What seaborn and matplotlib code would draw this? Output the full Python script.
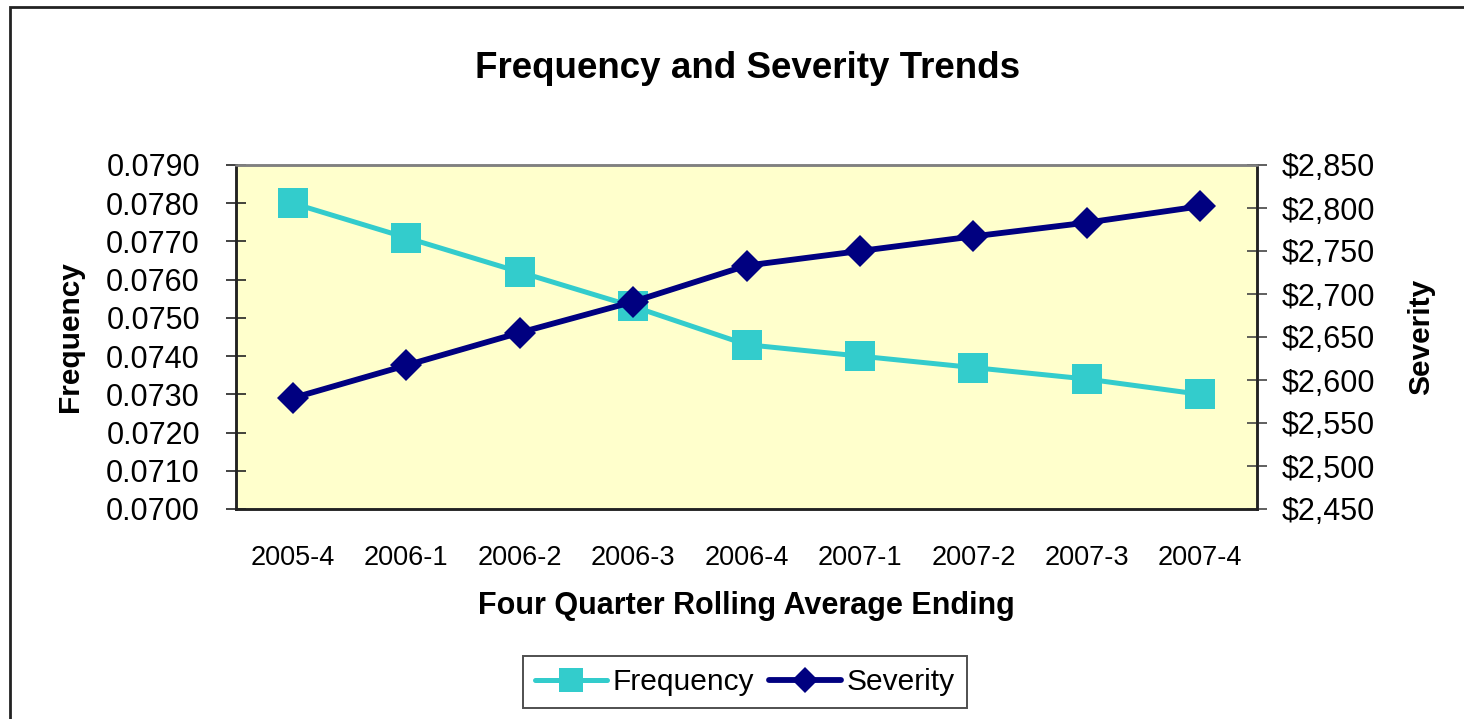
import matplotlib
matplotlib.use("Agg")
import matplotlib.pyplot as plt
import matplotlib.ticker as mticker
from matplotlib.patches import Rectangle
from matplotlib.lines import Line2D
import numpy as np
import pandas as pd
import seaborn as sns

# Four-quarter rolling averages
quarters = ["2005-4", "2006-1", "2006-2", "2006-3", "2006-4",
            "2007-1", "2007-2", "2007-3", "2007-4"]
frequency = [0.0780, 0.0771, 0.0762, 0.0753, 0.0743,
             0.0740, 0.0737, 0.0734, 0.0730]
severity = [2579, 2617, 2655, 2691, 2733, 2750, 2767, 2783, 2802]

freq_ticks = [0.0700, 0.0710, 0.0720, 0.0730, 0.0740,
              0.0750, 0.0760, 0.0770, 0.0780, 0.0790]
sev_ticks = [2450, 2500, 2550, 2600, 2650, 2700, 2750, 2800, 2850]

FREQ_COLOR = "#33CCCC"
SEV_COLOR = "#000080"

sns.set_theme(style="white")
plt.rcParams["font.family"] = ["Liberation Sans", "DejaVu Sans"]
plt.rcParams["text.color"] = "black"
plt.rcParams["axes.labelcolor"] = "black"
plt.rcParams["xtick.color"] = "black"
plt.rcParams["ytick.color"] = "black"

df = pd.DataFrame({"pos": np.arange(len(quarters)),
                   "quarter": quarters,
                   "Frequency": frequency,
                   "Severity": severity})

fig = plt.figure(figsize=(14.64, 7.19), dpi=100)
ax = fig.add_axes([236 / 1464, 1 - 509 / 719, 1021 / 1464, 344 / 719])
ax.set_facecolor("#FFFFCC")

# outer chart border
fig.add_artist(Rectangle((10 / 1464, -0.05), 1.2, 1 - 7 / 719 + 0.05,
                         transform=fig.transFigure, fill=False,
                         edgecolor="#222222", linewidth=2.0))

sns.lineplot(data=df, x="pos", y="Frequency", ax=ax, color=FREQ_COLOR,
             linewidth=3.6, marker="s", markersize=21.5,
             markeredgewidth=0, markerfacecolor=FREQ_COLOR, legend=False)

ax2 = ax.twinx()
sns.lineplot(data=df, x="pos", y="Severity", ax=ax2, color=SEV_COLOR,
             linewidth=4.2, marker="D", markersize=16,
             markeredgewidth=0, markerfacecolor=SEV_COLOR, legend=False)

ax.set_xlim(-0.5, len(quarters) - 0.5)
ax.set_ylim(freq_ticks[0], freq_ticks[-1])
ax2.set_ylim(sev_ticks[0], sev_ticks[-1])

ax.set_yticks(freq_ticks)
ax.yaxis.set_major_formatter(mticker.FormatStrFormatter("%.4f"))
ax2.set_yticks(sev_ticks)
ax2.yaxis.set_major_formatter(mticker.FuncFormatter(lambda v, p: f"${v:,.0f}"))

ax.set_xticks(np.arange(len(quarters)))
ax.set_xticklabels(quarters)
ax.set_xticks(np.arange(-0.5, len(quarters), 1.0), minor=True)
ax.tick_params(axis="x", which="major", length=0, pad=26, labelsize=19.5,
               labelcolor="black")
ax.tick_params(axis="x", which="minor", length=14, width=1.2,
               direction="inout", color="#222222")
ax.tick_params(axis="y", which="major", length=14, width=1.2,
               direction="inout", pad=19, labelsize=22, color="#222222",
               labelcolor="black", left=True)
ax2.tick_params(axis="y", which="major", length=14, width=1.2,
                direction="inout", pad=11, labelsize=22, color="#444444",
                labelcolor="black", right=True)

for a in (ax, ax2):
    for name, sp in a.spines.items():
        sp.set_linewidth(1.8)
        sp.set_color("#222222" if name in ("left", "bottom", "right") else "#808080")
        sp.set_visible(True)
ax2.patch.set_visible(False)

ax.set_xlabel("Four Quarter Rolling Average Ending", fontsize=22,
              fontweight="bold", labelpad=14, color="black")
ax.set_ylabel("Frequency", fontsize=21.5, fontweight="bold", labelpad=16,
              color="black")
ax2.set_ylabel("Severity", fontsize=21.5, fontweight="bold", labelpad=23,
               color="black")

fig.text(748 / 1464, 1 - 68 / 719, "Frequency and Severity Trends",
         ha="center", va="center", fontsize=26.5, fontweight="bold",
         color="black")

handles = [
    Line2D([], [], color=FREQ_COLOR, linewidth=3.6, marker="s",
           markersize=17, markeredgewidth=0, solid_capstyle="round"),
    Line2D([], [], color=SEV_COLOR, linewidth=4.2, marker="D",
           markersize=13, markeredgewidth=0, solid_capstyle="round"),
]
leg = fig.legend(handles, ["Frequency", "Severity"], loc="center",
                 bbox_to_anchor=(745 / 1464, 1 - 682 / 719), ncol=2,
                 fontsize=21.5, frameon=True, fancybox=False,
                 handlelength=2.4, handletextpad=0.2, columnspacing=0.5,
                 borderpad=0.4, borderaxespad=0, labelcolor="black")
leg.get_frame().set_edgecolor("#222222")
leg.get_frame().set_linewidth(1.4)

fig.savefig("out.png", dpi=100, facecolor="white")
